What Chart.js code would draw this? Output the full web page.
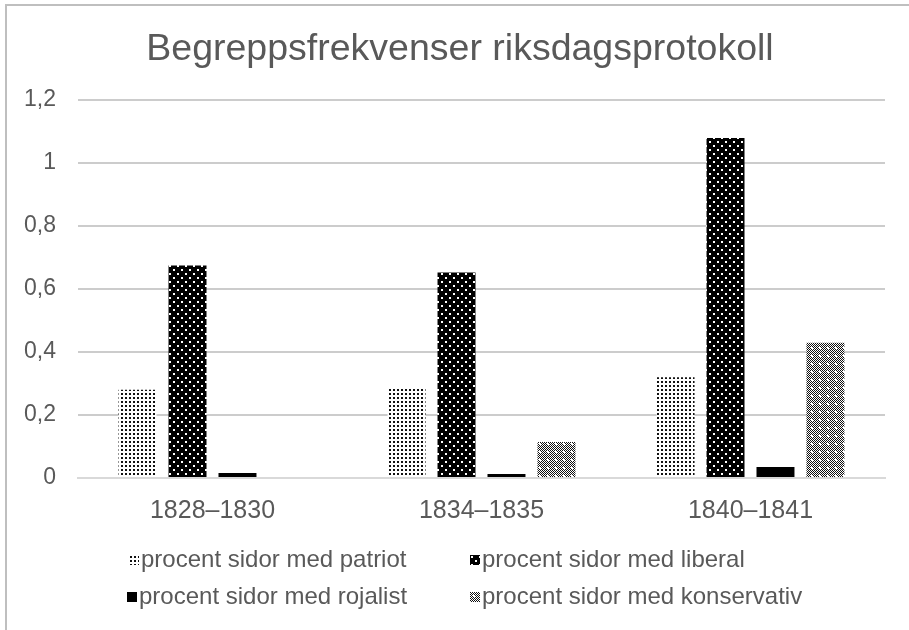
<!DOCTYPE html>
<html lang="sv">
<head>
    <meta charset="UTF-8">
    <title>Begreppsfrekvenser riksdagsprotokoll</title>
    <style>
        body {
            margin: 0;
            background: #ffffff;
            font-family: "Liberation Sans", Arial, sans-serif;
            overflow: hidden;
        }

        .frame {
            position: absolute;
            left: 5px;
            top: 4px;
            width: 1000px;
            height: 700px;
            border-left: 2px solid #bfbfbf;
            border-top: 2px solid #bfbfbf;
        }

        .chart-box {
            position: absolute;
            left: 0;
            top: 0;
            width: 909px;
            height: 630px;
        }

        .titel {
            position: absolute;
            left: 0;
            width: 920px;
            top: 25px;
            text-align: center;
            font-size: 37.5px;
            color: #595959;
            line-height: 44px;
        }

        .legend-item {
            position: absolute;
            font-size: 24px;
            color: #595959;
            line-height: 26px;
            white-space: nowrap;
        }

        .swatch {
            display: inline-block;
            width: 10px;
            height: 10px;
            margin-right: 2px;
            vertical-align: 2px;
        }
    </style>
    <script src="https://cdn.jsdelivr.net/npm/chart.js"></script>
</head>
<body>
    <div class="frame"></div>
    <div class="chart-box">
        <canvas id="frekvenser" width="909" height="630"></canvas>
    </div>
    <div class="titel">Begreppsfrekvenser riksdagsprotokoll</div>
    <div id="legend"></div>

    <script>
        // data
        const perioder = ['1828–1830', '1834–1835', '1840–1841'];
        const serier = ['procent sidor med patriot', 'procent sidor med liberal', 'procent sidor med rojalist', 'procent sidor med konservativ'];
        const patriot = [0.28, 0.286, 0.32];
        const liberal = [0.675, 0.652, 1.079];
        const rojalist = [0.016, 0.013, 0.035];
        const konservativ = [0, 0.114, 0.429];
        const yMin = 0, yMax = 1.2, ySteg = 0.2;

        // mönster (Excel-liknande fyllningar)
        function gorMonster(w, h, rita) {
            const c = document.createElement('canvas');
            c.width = w;
            c.height = h;
            const g = c.getContext('2d');
            rita(g);
            return { fill: g.createPattern(c, 'repeat'), url: c.toDataURL() };
        }

        const prickar = gorMonster(4, 4, g => {
            g.fillStyle = '#ffffff';
            g.fillRect(0, 0, 4, 4);
            g.fillStyle = '#111111';
            g.fillRect(1, 1, 2, 2);
        });

        const svartPrick = gorMonster(8, 8, g => {
            g.fillStyle = '#000000';
            g.fillRect(0, 0, 8, 8);
            g.fillStyle = '#ffffff';
            g.fillRect(1, 1, 2, 2);
            g.fillRect(5, 5, 2, 2);
        });

        const rutor = gorMonster(8, 8, g => {
            g.fillStyle = '#ffffff';
            g.fillRect(0, 0, 8, 8);
            for (let x = 0; x < 8; x++) {
                for (let y = 0; y < 8; y++) {
                    if ((x + y) % 2 === 0) {
                        g.fillStyle = '#111111';
                        g.fillRect(x, y, 1, 1);
                    }
                }
            }
            g.fillStyle = '#ffffff';
            g.fillRect(3, 3, 2, 2);
        });

        const fyllningar = [prickar, svartPrick, { fill: '#000000', url: null }, rutor];
        const varden = [patriot, liberal, rojalist, konservativ];

        const ctx = document.getElementById('frekvenser').getContext('2d');
        const diagram = new Chart(ctx, {
            type: 'bar',
            data: {
                labels: perioder,
                datasets: serier.map((namn, i) => ({
                    label: namn,
                    data: varden[i],
                    backgroundColor: fyllningar[i].fill,
                    borderWidth: 0,
                    categoryPercentage: 0.743,
                    barPercentage: 0.76
                }))
            },
            options: {
                responsive: false,
                animation: false,
                layout: {
                    padding: { top: 100, right: 24, bottom: 102, left: 0 }
                },
                plugins: {
                    legend: { display: false },
                    title: { display: false },
                    tooltip: { enabled: false }
                },
                scales: {
                    x: {
                        grid: { display: false, drawTicks: false },
                        border: { color: '#d9d9d9', width: 2 },
                        ticks: {
                            color: '#595959',
                            font: { family: '"Liberation Sans", Arial, sans-serif', size: 25 },
                            padding: 18
                        },
                        afterFit: s => { s.height = 50; }
                    },
                    y: {
                        min: yMin,
                        max: yMax,
                        grid: { color: '#cccccc', lineWidth: 2, drawTicks: false },
                        border: { display: false },
                        ticks: {
                            stepSize: ySteg,
                            color: '#595959',
                            font: { family: '"Liberation Sans", Arial, sans-serif', size: 23 },
                            padding: 22,
                            callback: v => String(Math.round(v * 10) / 10).replace('.', ',')
                        },
                        afterFit: s => { s.width = 78; }
                    }
                }
            }
        });

        // legend i två kolumner
        const legendPos = [
            { left: 129, top: 546 },
            { left: 470, top: 546 },
            { left: 127, top: 583 },
            { left: 470, top: 583 }
        ];
        const legend = document.getElementById('legend');
        serier.forEach((namn, i) => {
            const item = document.createElement('div');
            item.className = 'legend-item';
            item.style.left = legendPos[i].left + 'px';
            item.style.top = legendPos[i].top + 'px';
            const ruta = document.createElement('span');
            ruta.className = 'swatch';
            if (fyllningar[i].url) {
                ruta.style.backgroundImage = 'url(' + fyllningar[i].url + ')';
            } else {
                ruta.style.background = fyllningar[i].fill;
            }
            item.appendChild(ruta);
            item.appendChild(document.createTextNode(namn));
            legend.appendChild(item);
        });
    </script>
</body>
</html>
